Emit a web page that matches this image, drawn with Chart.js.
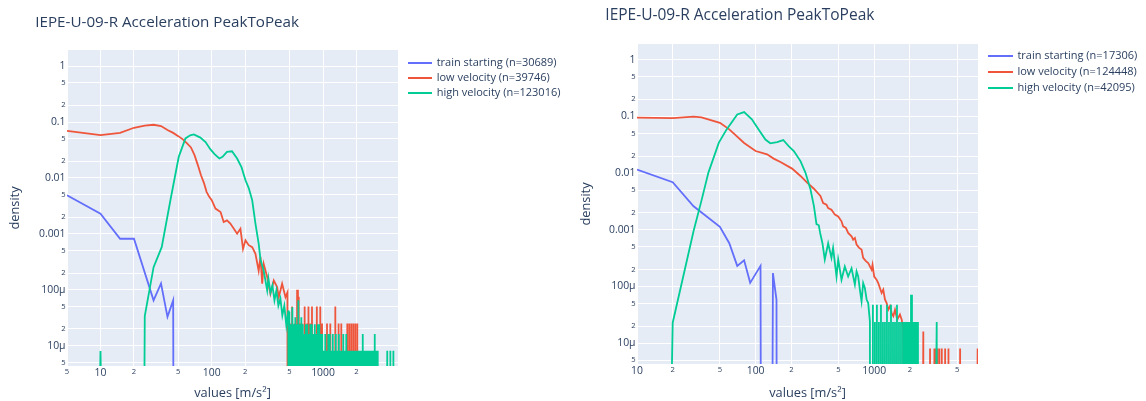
<!DOCTYPE html>
<html>
<head>
<meta charset="utf-8">
<title>IEPE-U-09-R Acceleration PeakToPeak</title>
<script src="https://cdn.jsdelivr.net/npm/chart.js@4.4.1/dist/chart.umd.min.js"></script>
<style>
  body { margin: 0; background: #fff; }
  #page { position: relative; width: 1146px; height: 401px; overflow: hidden; font-family: "Open Sans", sans-serif; color: #2a3f5f; }
  #page canvas { position: absolute; top: 0; }
  .title { position: absolute; line-height: 1; white-space: nowrap; }
  .legend { position: absolute; font-size: 11px; white-space: nowrap; }
  .legend .row { display: flex; align-items: center; }
  .legend .swatch { height: 2px; transform: translateY(1px); }
</style>
</head>
<body>
<div id="page">
  <canvas id="leftChart" width="573" height="401" style="left:0"></canvas>
  <canvas id="rightChart" width="573" height="401" style="left:573px"></canvas>
  <div class="title" style="left:35.3px; top:13.5px; font-size:15.2px">IEPE-U-09-R Acceleration PeakToPeak</div>
  <div class="title" style="left:605.3px; top:7.2px; font-size:15.5px">IEPE-U-09-R Acceleration PeakToPeak</div>
  <div class="legend" id="leftLegend" style="left:408px; top:54.2px"></div>
  <div class="legend" id="rightLegend" style="left:988px; top:47.1px"></div>
</div>
<script>
// series names and sample sizes of each panel
const seriesNames = ["train starting", "low velocity", "high velocity"];
const leftN = [30689, 39746, 123016];
const rightN = [17306, 124448, 42095];

// axis ticks and labels
const yTicks = [5e-6, 1e-5, 2e-5, 5e-5, 1e-4, 2e-4, 5e-4, 0.001, 0.002, 0.005, 0.01, 0.02, 0.05, 0.1, 0.2, 0.5, 1];
const yTickLabels = ["5", "10μ", "2", "5", "100μ", "2", "5", "0.001", "2", "5", "0.01", "2", "5", "0.1", "2", "5", "1"];
const leftXTicks = [5, 10, 20, 50, 100, 200, 500, 1000, 2000];
const leftXTickLabels = ["5", "10", "2", "5", "100", "2", "5", "1000", "2"];
const rightXTicks = [10, 20, 50, 100, 200, 500, 1000, 2000, 5000];
const rightXTickLabels = ["10", "2", "5", "100", "2", "5", "1000", "2", "5"];

// ---- left panel: [value, density] ----
const leftTrain = [[5, 0.0049], [10, 0.0023], [15, 0.00082], [20, 0.00082], [30, 6.5e-5], [35, 1.3e-4],
  [40, 3.3e-5], [45, 6.5e-5], [50, 0]];

const leftLow = [[5, 0.0698], [10, 0.0585], [15, 0.0643], [20, 0.079], [25, 0.086], [30, 0.0895], [35, 0.0848],
  [40, 0.072], [45, 0.064], [50, 0.056], [55, 0.049], [60, 0.0415], [65, 0.0352], [70, 0.0256], [75, 0.017],
  [80, 0.0112], [85, 0.0082], [90, 0.0056], [95, 0.0046], [100, 0.0040], [108, 0.00284], [120, 0.00247],
  [128, 0.00163], [137, 0.00175], [147, 0.00153], [158, 0.00124], [169, 0.00101], [181, 0.00124], [191, 5.4e-4],
  [201, 7.7e-4], [215, 6.3e-4], [231, 5.8e-4], [247, 4.4e-4], [264, 2.2e-4], [274, 3.9e-4], [284, 1.29e-4],
  [293, 2.9e-4], [315, 1.7e-4], [337, 8.5e-5], [361, 1.47e-4], [387, 1.12e-4], [400, 7.4e-5], [429, 1.29e-4],
  [460, 7.4e-5], [479, 9.0e-5]];
// tail as [value, count]
const leftLowTail = [[490, 0], [508, 1], [518, 0], [528, 2], [542, 0], [556, 1], [570, 0], [585, 4], [595, 0],
  [605, 3], [615, 0], [625, 1], [636, 0], [647, 1], [665, 0], [684, 2], [700, 0], [718, 1], [729, 0], [740, 2],
  [754, 0], [769, 1], [782, 0], [796, 2], [840, 0], [880, 2], [912, 0], [945, 2], [962, 0], [980, 1], [1030, 0],
  [1086, 1], [1120, 0], [1163, 1], [1230, 0], [1290, 2], [1335, 0], [1380, 1], [1420, 0], [1460, 1], [1550, 0],
  [1653, 1], [1687, 0], [1722, 1], [1758, 0], [1795, 1], [1832, 0], [1871, 1], [1910, 0], [1950, 1], [1990, 0],
  [2032, 1], [2074, 0]];

const leftHigh = [[5, 0], [10, 8.1e-6], [20, 0], [25, 3.4e-5], [30, 2.55e-4], [35.5, 5.8e-4], [42.5, 0.004],
  [50.5, 0.0239], [58, 0.051], [64, 0.058], [69, 0.060], [79, 0.0527], [88, 0.0438], [97, 0.0328], [106, 0.0267],
  [117, 0.0223], [125, 0.0239], [137, 0.0294], [152, 0.030], [169, 0.0223], [185, 0.0156], [201, 0.0091],
  [215, 0.0066], [231, 0.004], [247, 0.00153], [264, 6.7e-4], [274, 3.5e-4], [293, 2.2e-4], [315, 9.8e-5],
  [323, 1.6e-4], [337, 9.0e-5], [351, 1.2e-4], [366, 6.5e-5], [381, 9.8e-5], [397, 5.2e-5], [414, 7.0e-5],
  [431, 3.5e-5], [449, 5.2e-5], [468, 2.3e-5], [488, 4.3e-5]];
const leftHighTail = [[492, 0], [498, 5], [506, 0], [514, 3], [522, 0], [530, 6], [538, 0], [547, 3], [555, 0],
  [564, 4], [573, 0], [582, 3], [591, 0], [600, 8], [609, 0], [619, 3], [628, 0], [638, 4], [648, 0], [658, 3],
  [669, 0], [679, 2], [690, 0], [700, 3], [711, 0], [723, 3], [734, 0], [745, 2], [757, 0], [769, 3], [781, 0],
  [793, 3], [805, 0], [818, 2], [831, 0], [844, 3], [857, 0], [870, 2], [884, 0], [898, 3], [912, 0], [926, 3],
  [940, 0], [955, 2], [970, 0], [985, 2], [1001, 0], [1016, 1], [1032, 0], [1048, 2], [1065, 0], [1081, 1],
  [1098, 0], [1115, 2], [1133, 0], [1151, 2], [1168, 0], [1187, 1], [1205, 0], [1224, 2], [1243, 0], [1263, 1],
  [1282, 0], [1303, 2], [1323, 0], [1344, 1], [1364, 0], [1386, 2], [1407, 0], [1430, 1], [1452, 0], [1475, 1],
  [1498, 0], [1521, 2], [1545, 0], [1569, 1], [1593, 0], [1618, 2], [1644, 0], [1669, 1], [1695, 0], [1722, 1],
  [1749, 0], [1776, 1], [1804, 0], [1832, 1], [1861, 0], [1890, 1], [1919, 0], [1949, 1], [1980, 0], [2011, 1],
  [2042, 0], [2074, 1], [2106, 0], [2139, 1], [2173, 0], [2207, 1], [2241, 0], [2276, 2], [2312, 0], [2348, 1],
  [2385, 0], [2422, 1], [2460, 0], [2498, 1], [2537, 0], [2577, 1], [2617, 0], [2658, 1], [2700, 0], [2742, 1],
  [2785, 0], [2828, 1], [2872, 0], [2917, 2], [2963, 0], [3009, 1], [3056, 0], [3104, 1], [3152, 0], [3780, 1],
  [3900, 0], [4030, 1], [4150, 0], [4290, 1], [4500, 0]];

// ---- right panel ----
const rightTrain = [[10, 0.0115], [20, 0.0069], [30, 0.0026], [50, 0.00113], [60, 5.8e-4], [70, 2.31e-4],
  [80, 2.89e-4], [90, 1.16e-4], [110, 2.31e-4], [120, 0], [140, 1.73e-4], [150, 5.8e-5], [160, 0]];

const rightLow = [[10, 0.095], [20, 0.093], [30, 0.099], [35, 0.096], [50, 0.077], [60, 0.059], [80, 0.034],
  [100, 0.0245], [125, 0.0214], [142, 0.018], [162, 0.0157], [203, 0.012], [239, 0.0089], [272, 0.0068],
  [310, 0.0053], [352, 0.00395], [371, 0.00297], [396, 0.00277], [409, 0.00242], [436, 0.00226], [466, 0.00185],
  [497, 0.00172], [530, 0.00141], [547, 0.00115], [577, 0.00108], [603, 8.8e-4], [644, 7.7e-4], [664, 6.7e-4],
  [687, 7.2e-4], [710, 5.5e-4], [747, 4.8e-4], [782, 4.5e-4], [807, 3.2e-4], [851, 2.8e-4], [890, 2.6e-4],
  [920, 2.26e-4], [951, 1.98e-4], [968, 2.42e-4], [1000, 1.5e-4], [1047, 1.32e-4], [1081, 1.15e-4],
  [1117, 9.4e-5], [1155, 7.7e-5], [1192, 8.8e-5], [1232, 5.9e-5], [1273, 5.1e-5], [1314, 3.9e-5], [1358, 4.5e-5],
  [1403, 3.4e-5], [1449, 3.0e-5], [1497, 3.9e-5], [1564, 2.6e-5], [1648, 3.2e-5], [1705, 2.6e-5], [1759, 1.73e-5]];
const rightLowTail = [[1790, 0], [1820, 2], [1840, 0], [1854, 2], [1870, 0], [1901, 2], [1930, 0], [1965, 1],
  [2000, 0], [2043, 1], [2060, 0], [2071, 2], [2100, 0], [2178, 1], [2230, 0], [2594, 2], [2650, 0], [2957, 1],
  [3050, 0], [3216, 1], [3260, 0], [3304, 1], [3360, 0], [3410, 1], [3470, 0], [3542, 1], [3620, 0], [3713, 1],
  [3800, 0], [3962, 1], [4100, 0], [4227, 1], [4600, 0], [5300, 1], [5600, 0], [7450, 1]];

const rightHigh = [[10, 0], [20, 2.3e-5], [30, 9.5e-4], [35, 0.0033], [40, 0.0102], [49, 0.0344], [57, 0.059],
  [70, 0.108], [80, 0.119], [93, 0.0886], [106, 0.059], [121, 0.039], [133, 0.0335], [152, 0.0353], [171, 0.0383],
  [190, 0.030], [210, 0.0245], [239, 0.0163], [263, 0.0102], [290, 0.0052], [310, 0.00264], [326, 0.00126],
  [341, 0.0012], [350, 8.8e-4], [366, 5.8e-4], [383, 3.0e-4], [409, 5.8e-4], [436, 3.2e-4], [450, 4.8e-4],
  [481, 1.5e-4], [497, 3.0e-4], [530, 1.32e-4], [565, 2.26e-4], [603, 1.5e-4], [644, 2.1e-4], [687, 1.08e-4],
  [710, 1.85e-4], [733, 1.5e-4], [757, 8.8e-5], [782, 5.5e-5], [807, 1.15e-4], [834, 9.4e-5], [863, 5.9e-5],
  [890, 5.1e-5], [920, 2.4e-5]];
const rightHighTail = [[945, 0], [975, 2], [994, 0], [1014, 1], [1033, 0], [1054, 2], [1074, 0], [1096, 1],
  [1117, 0], [1140, 2], [1161, 0], [1185, 1], [1207, 0], [1232, 1], [1255, 0], [1281, 2], [1305, 0], [1332, 1],
  [1357, 0], [1385, 2], [1411, 0], [1440, 1], [1467, 0], [1497, 1], [1525, 0], [1556, 2], [1585, 0], [1618, 1],
  [1648, 0], [1682, 1], [1714, 0], [1749, 1], [1782, 0], [1818, 1], [1853, 0], [1890, 1], [1926, 0], [1965, 1],
  [2002, 0], [2043, 3], [2082, 0], [2124, 1], [2164, 0], [2208, 1], [2250, 0], [2296, 1], [2339, 0], [3365, 1],
  [3430, 0]];

const seriesColors = ["#636efa", "#EF553B", "#00cc96"];
const ink = "#2a3f5f";
// plotly pushes empty bins far below a log axis, so the line drops off the bottom
const FLOOR = 1e-40;

Chart.defaults.font.family = '"Open Sans", sans-serif';
Chart.defaults.color = ink;

function toPoints(main, tail, n) {
  const pts = main.map(([x, y]) => ({ x: x, y: y > 0 ? y : FLOOR }));
  tail.forEach(([x, c]) => pts.push({ x: x, y: c > 0 ? c / n : FLOOR }));
  return pts;
}

function isDecade(v) {
  const l = Math.log10(v);
  return Math.abs(l - Math.round(l)) < 1e-6;
}

function labelFor(v, ticks, labels) {
  const i = ticks.findIndex(t => Math.abs(t - v) / t < 1e-6);
  return i < 0 ? "" : labels[i];
}

function tickFont(ctx) {
  const major = ctx.tick ? isDecade(ctx.tick.value) : true;
  return { size: major ? 10.4 : 7.6 };
}

const plotBackground = {
  id: "plotBackground",
  beforeDraw(chart) {
    const { ctx, chartArea: a } = chart;
    ctx.save();
    ctx.fillStyle = "#E5ECF6";
    ctx.fillRect(a.left, a.top, a.right - a.left, a.bottom - a.top);
    ctx.restore();
  }
};

function makeChart(id, cfg) {
  const canvas = document.getElementById(id);
  const W = canvas.width, H = canvas.height;
  const a = cfg.area;
  return new Chart(canvas, {
    type: "line",
    data: {
      datasets: cfg.series.map((s, i) => ({
        label: seriesNames[i],
        data: s,
        borderColor: seriesColors[i],
        borderWidth: 1.8,
        pointRadius: 0,
        tension: 0,
        fill: false,
        order: 2 - i
      }))
    },
    options: {
      responsive: false,
      animation: false,
      devicePixelRatio: 1,
      layout: { padding: { left: 0, top: a.top, right: W - a.right, bottom: 0 } },
      plugins: { legend: { display: false }, tooltip: { enabled: false } },
      scales: {
        x: {
          type: "logarithmic",
          min: cfg.xMin,
          max: cfg.xMax,
          afterBuildTicks: s => { s.ticks = cfg.xTicks.map(v => ({ value: v })); },
          afterFit: s => { s.height = H - a.bottom; },
          ticks: {
            autoSkip: false, maxRotation: 0, minRotation: 0, padding: 1.3, color: ink, font: tickFont,
            callback: v => labelFor(v, cfg.xTicks, cfg.xLabels)
          },
          grid: { color: "#ffffff", lineWidth: 1, drawTicks: false },
          border: { display: false },
          title: { display: true, text: "values [m/s²]", color: ink, font: { size: 12.8 }, padding: { top: 0, bottom: 0 } }
        },
        y: {
          type: "logarithmic",
          min: cfg.yMin,
          max: cfg.yMax,
          afterBuildTicks: s => { s.ticks = yTicks.map(v => ({ value: v })); },
          afterFit: s => { s.width = a.left; },
          ticks: {
            autoSkip: false, padding: 1.5, color: ink, font: tickFont,
            callback: v => labelFor(v, yTicks, yTickLabels)
          },
          grid: { color: "#ffffff", lineWidth: 1, drawTicks: false },
          border: { display: false },
          title: { display: true, text: "density", color: ink, font: { size: 12.8 }, padding: { top: cfg.yTitlePad, bottom: 0 } }
        }
      }
    },
    plugins: [plotBackground]
  });
}

function fillLegend(id, counts, swatchW, gap, rowH) {
  const box = document.getElementById(id);
  seriesNames.forEach((name, i) => {
    const row = document.createElement("div");
    row.className = "row";
    row.style.height = rowH + "px";
    row.innerHTML = `<span class="swatch" style="width:${swatchW}px;margin-right:${gap}px;background:${seriesColors[i]}"></span>` +
      `<span>${name} (n=${counts[i]})</span>`;
    box.appendChild(row);
  });
}

makeChart("leftChart", {
  series: [toPoints(leftTrain, [], leftN[0]), toPoints(leftLow, leftLowTail, leftN[1]), toPoints(leftHigh, leftHighTail, leftN[2])],
  xMin: 5, xMax: 4720, xTicks: leftXTicks, xLabels: leftXTickLabels,
  yMin: 4.36e-6, yMax: 1.94,
  area: { left: 67, top: 50, right: 398, bottom: 366 },
  yTitlePad: 7.8
});

makeChart("rightChart", {
  series: [toPoints(rightTrain, [], rightN[0]), toPoints(rightLow, rightLowTail, rightN[1]), toPoints(rightHigh, rightHighTail, rightN[2])],
  xMin: 10, xMax: 7500, xTicks: rightXTicks, xLabels: rightXTickLabels,
  yMin: 4.3e-6, yMax: 1.89,
  area: { left: 64, top: 44, right: 405, bottom: 364 },
  yTitlePad: 5.3
});

fillLegend("leftLegend", leftN, 24, 4.7, 15);
fillLegend("rightLegend", rightN, 25, 4.4, 15.8);
</script>
</body>
</html>
